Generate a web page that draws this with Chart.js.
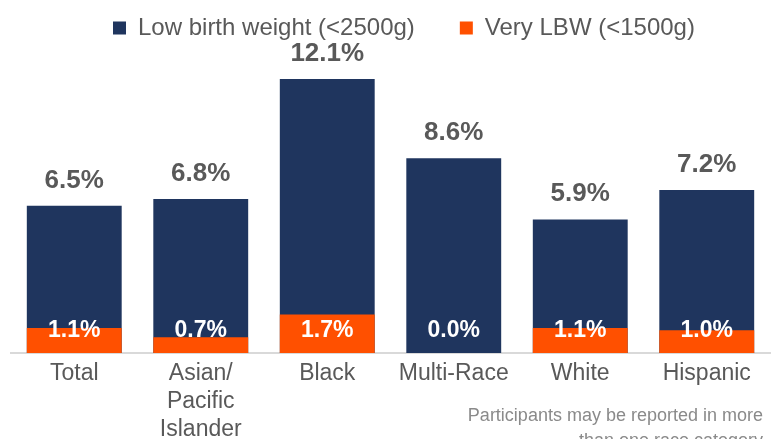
<!DOCTYPE html>
<html>
<head>
<meta charset="utf-8">
<script src="https://cdn.jsdelivr.net/npm/chart.js@4/dist/chart.umd.min.js"></script>
<style>
  html, body { margin: 0; padding: 0; background: #ffffff; overflow: hidden; }
  #wrap { position: relative; width: 775px; height: 439px; overflow: hidden; }
  #note { position: absolute; right: 12px; top: 403px; width: 420px; text-align: right;
          font-family: "Liberation Sans", Arial, sans-serif; font-size: 18px; line-height: 25px; color: #8a8a8a; }
</style>
</head>
<body>
<div id="wrap">
  <canvas id="c" width="775" height="439"></canvas>
  <div id="note">Participants may be reported in more<br>than one race category</div>
</div>
<script>
const categories = ["Total", ["Asian/", "Pacific", "Islander"], "Black", "Multi-Race", "White", "Hispanic"];
const lowBirthWeight = [6.5, 6.8, 12.1, 8.6, 5.9, 7.2];
const veryLBW = [1.1, 0.7, 1.7, 0.0, 1.1, 1.0];
const seriesNames = ["Low birth weight (<2500g)", "Very LBW (<1500g)"];

const FONT = "'Liberation Sans', Arial, sans-serif";
const NAVY = "#1f355e";
const ORANGE = "#ff5000";
const GREY = "#595959";
const LEGEND_PAD = 45;

const labelPlugin = {
  id: "valueLabels",
  afterLayout(chart) {
    const lg = chart.legend;
    if (!lg || !lg.lineWidths) return;
    const cur = (lg.left + LEGEND_PAD + lg.right - lg.lineWidths[0]) / 2;
    const dx = 113 - cur;
    lg.left += dx;
    lg.right += dx;
  },
  afterDatasetsDraw(chart) {
    const ctx = chart.ctx;
    const lbwMeta = chart.getDatasetMeta(1);
    const vMeta = chart.getDatasetMeta(0);
    const base = chart.scales.y.getPixelForValue(0);
    ctx.save();
    ctx.textAlign = "center";
    ctx.textBaseline = "alphabetic";
    lbwMeta.data.forEach((bar, i) => {
      ctx.font = "bold 26px " + FONT;
      ctx.fillStyle = GREY;
      ctx.fillText(lowBirthWeight[i].toFixed(1) + "%", bar.x, bar.y - 18);
    });
    vMeta.data.forEach((bar, i) => {
      ctx.font = "bold 23px " + FONT;
      ctx.fillStyle = "#ffffff";
      ctx.fillText(veryLBW[i].toFixed(1) + "%", bar.x, base - 16);
    });
    ctx.restore();
  }
};

new Chart(document.getElementById("c"), {
  type: "bar",
  data: {
    labels: categories,
    datasets: [
      { label: seriesNames[1], data: veryLBW, backgroundColor: ORANGE, grouped: false,
        barPercentage: 0.75, categoryPercentage: 1.0 },
      { label: seriesNames[0], data: lowBirthWeight, backgroundColor: NAVY, grouped: false,
        barPercentage: 0.75, categoryPercentage: 1.0 }
    ]
  },
  options: {
    responsive: false,
    animation: false,
    devicePixelRatio: 1,
    layout: { padding: { left: 11, right: 5, top: -29, bottom: 0 } },
    plugins: {
      legend: {
        reverse: true,
        position: "top",
        labels: {
          font: { family: FONT, size: 24 },
          color: GREY,
          boxWidth: 13,
          boxHeight: 13,
          padding: LEGEND_PAD
        }
      },
      tooltip: { enabled: false },
      title: { display: false }
    },
    scales: {
      x: {
        grid: { display: false, drawTicks: false },
        border: { display: true, color: "#d9d9d9", width: 2 },
        ticks: { font: { family: FONT, size: 23, lineHeight: 1.22 }, color: GREY, padding: 7, maxRotation: 0, autoSkip: false },
        afterFit(s) { s.height = 86; }
      },
      y: {
        display: false,
        min: 0,
        max: 13.38,
        grid: { display: false }
      }
    }
  },
  plugins: [labelPlugin]
});
</script>
</body>
</html>
